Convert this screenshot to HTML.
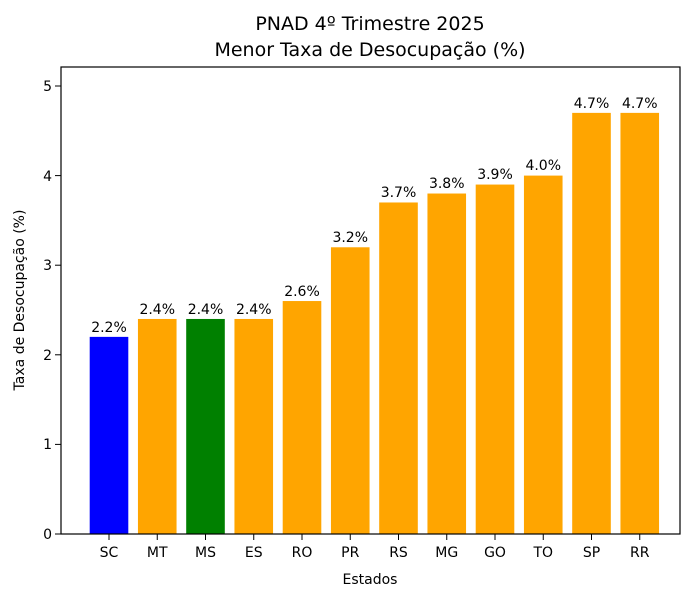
<!DOCTYPE html>
<html><head><meta charset="utf-8"><style>body{margin:0;background:#fff}</style></head><body>
<svg width="700" height="601" xmlns="http://www.w3.org/2000/svg" font-family="'DejaVu Sans', 'Liberation Sans', sans-serif">
<rect width="700" height="601" fill="#fff"/>
<text x="370" y="30" font-size="19" text-anchor="middle">PNAD 4º Trimestre 2025</text>
<text x="370" y="56" font-size="19" text-anchor="middle">Menor Taxa de Desocupação (%)</text>
<g>
<rect x="89.7" y="336.88" width="38.6" height="197.12" fill="#0000ff"/>
<rect x="137.95" y="318.96" width="38.6" height="215.04" fill="orange"/>
<rect x="186.2" y="318.96" width="38.6" height="215.04" fill="#008000"/>
<rect x="234.45" y="318.96" width="38.6" height="215.04" fill="orange"/>
<rect x="282.7" y="301.04" width="38.6" height="232.96" fill="orange"/>
<rect x="330.95" y="247.28" width="38.6" height="286.72" fill="orange"/>
<rect x="379.2" y="202.48" width="38.6" height="331.52" fill="orange"/>
<rect x="427.45" y="193.52" width="38.6" height="340.48" fill="orange"/>
<rect x="475.7" y="184.56" width="38.6" height="349.44" fill="orange"/>
<rect x="523.95" y="175.6" width="38.6" height="358.4" fill="orange"/>
<rect x="572.2" y="112.88" width="38.6" height="421.12" fill="orange"/>
<rect x="620.45" y="112.88" width="38.6" height="421.12" fill="orange"/>
</g>
<g font-size="14" text-anchor="middle">
<text x="109" y="332">2.2%</text>
<text x="157.25" y="314">2.4%</text>
<text x="205.5" y="314">2.4%</text>
<text x="253.75" y="314">2.4%</text>
<text x="302" y="296">2.6%</text>
<text x="350.25" y="242">3.2%</text>
<text x="398.5" y="197">3.7%</text>
<text x="446.75" y="188">3.8%</text>
<text x="495" y="179">3.9%</text>
<text x="543.25" y="170">4.0%</text>
<text x="591.5" y="108">4.7%</text>
<text x="639.75" y="108">4.7%</text>
</g>
<g stroke="#000">
<line x1="109" x2="109" y1="534" y2="540"/><line x1="157.25" x2="157.25" y1="534" y2="540"/>
<line x1="205.5" x2="205.5" y1="534" y2="540"/><line x1="253.75" x2="253.75" y1="534" y2="540"/>
<line x1="302" x2="302" y1="534" y2="540"/><line x1="350.25" x2="350.25" y1="534" y2="540"/>
<line x1="398.5" x2="398.5" y1="534" y2="540"/><line x1="446.75" x2="446.75" y1="534" y2="540"/>
<line x1="495" x2="495" y1="534" y2="540"/><line x1="543.25" x2="543.25" y1="534" y2="540"/>
<line x1="591.5" x2="591.5" y1="534" y2="540"/><line x1="639.75" x2="639.75" y1="534" y2="540"/>
</g>
<g font-size="14" text-anchor="middle">
<text x="109" y="557">SC</text><text x="157.25" y="557">MT</text><text x="205.5" y="557">MS</text>
<text x="253.75" y="557">ES</text><text x="302" y="557">RO</text><text x="350.25" y="557">PR</text>
<text x="398.5" y="557">RS</text><text x="446.75" y="557">MG</text><text x="495" y="557">GO</text>
<text x="543.25" y="557">TO</text><text x="591.5" y="557">SP</text><text x="639.75" y="557">RR</text>
</g>
<rect x="61" y="67" width="619" height="467" fill="none" stroke="#000" stroke-width="1.2"/>
<g font-size="14" text-anchor="end">
<line x1="55" x2="61" y1="534" y2="534" stroke="#000"/><text x="52" y="539">0</text>
<line x1="55" x2="61" y1="444.4" y2="444.4" stroke="#000"/><text x="52" y="449">1</text>
<line x1="55" x2="61" y1="354.8" y2="354.8" stroke="#000"/><text x="52" y="360">2</text>
<line x1="55" x2="61" y1="265.2" y2="265.2" stroke="#000"/><text x="52" y="270">3</text>
<line x1="55" x2="61" y1="175.6" y2="175.6" stroke="#000"/><text x="52" y="181">4</text>
<line x1="55" x2="61" y1="86" y2="86" stroke="#000"/><text x="52" y="91">5</text>
</g>
<text transform="translate(24,300) rotate(-90)" font-size="14" text-anchor="middle">Taxa de Desocupação (%)</text>
<text x="370" y="584" font-size="14" text-anchor="middle">Estados</text>
</svg>
</body></html>
